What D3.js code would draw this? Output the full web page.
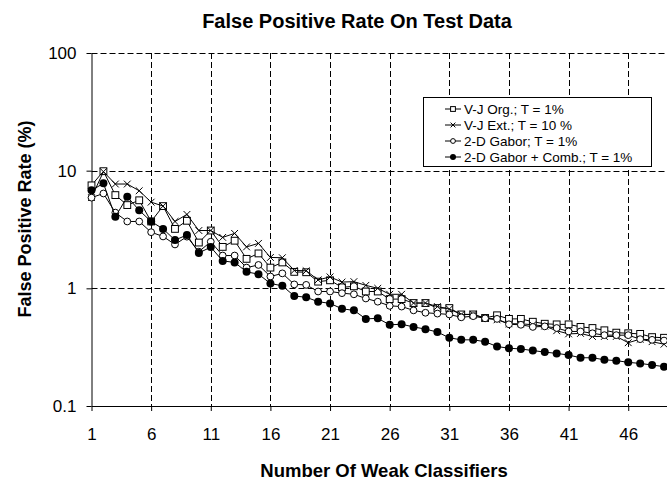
<!DOCTYPE html>
<html>
<head>
<meta charset="utf-8">
<script src="https://cdn.jsdelivr.net/npm/d3@7"></script>
<style>
  body { margin: 0; background: #fff; }
  svg { display: block; font-family: "Liberation Sans", Arial, sans-serif; }
</style>
</head>
<body>
<svg id="chart" width="667" height="485"></svg>
<script>
// Number of weak classifiers (x categories)
const steps = d3.range(1, 50);

// False positive rate (%) per number of weak classifiers
const vjOrg = [7.5, 9.9, 6.2, 5.1, 5.6, 3.7, 5.0, 3.2, 3.75, 2.45,
  3.1, 2.25, 2.54, 1.78, 1.98, 1.5, 1.66, 1.38, 1.37, 1.14,
  1.17, 1.02, 1.04, 0.94, 0.94, 0.81, 0.81, 0.75, 0.75, 0.68,
  0.68, 0.6, 0.6, 0.56, 0.59, 0.55, 0.55, 0.52, 0.5, 0.494,
  0.494, 0.47, 0.46, 0.44, 0.42, 0.415, 0.41, 0.385, 0.38];

const vjExt = [5.9, 9.8, 7.7, 7.7, 6.75, 5.4, 5.0, 3.7, 4.25, 3.1,
  3.1, 2.71, 2.93, 2.25, 2.41, 1.83, 1.82, 1.42, 1.41, 1.18,
  1.25, 1.13, 1.14, 1.06, 1.0, 0.89, 0.89, 0.75, 0.75, 0.7,
  0.667, 0.6, 0.6, 0.556, 0.54, 0.5, 0.5, 0.49, 0.478, 0.436,
  0.41, 0.414, 0.39, 0.39, 0.39, 0.345, 0.37, 0.352, 0.335];

const gabor = [5.9, 6.4, 4.4, 3.7, 3.7, 3.0, 2.76, 2.36, 2.75, 2.05,
  2.49, 1.9, 1.9, 1.5, 1.58, 1.26, 1.34, 1.08, 1.07, 0.94,
  0.94, 0.91, 0.89, 0.82, 0.77, 0.71, 0.7, 0.65, 0.62, 0.61,
  0.6, 0.567, 0.58, 0.556, 0.55, 0.495, 0.49, 0.47, 0.475, 0.46,
  0.43, 0.43, 0.415, 0.4, 0.4, 0.4, 0.37, 0.365, 0.36];

const gaborComb = [6.8, 7.8, 4.05, 6.0, 4.6, 3.7, 3.2, 2.57, 2.84, 2.0,
  2.24, 1.71, 1.66, 1.38, 1.32, 1.1, 1.05, 0.86, 0.84, 0.77,
  0.745, 0.67, 0.65, 0.55, 0.556, 0.49, 0.495, 0.47, 0.45, 0.425,
  0.38, 0.365, 0.365, 0.352, 0.32, 0.31, 0.305, 0.296, 0.287, 0.28,
  0.271, 0.257, 0.257, 0.247, 0.243, 0.235, 0.23, 0.223, 0.216];

const seriesNames = ["V-J Org.; T = 1%", "V-J Ext.; T = 10 %", "2-D Gabor; T = 1%", "2-D Gabor + Comb.; T = 1%"];
const seriesMarkers = ["square", "cross", "circle", "dot"];
const seriesValues = [vjOrg, vjExt, gabor, gaborComb];

// Axis ticks
const xTicks = [1, 6, 11, 16, 21, 26, 31, 36, 41, 46];
const yTicks = [0.1, 1, 10, 100];
const yTickLabels = ["0.1", "1", "10", "100"];

const svg = d3.select("#chart");
const plotL = 91.5, plotR = 667, plotT = 53, plotB = 406;

const x = d3.scaleLinear().domain([1, 49.25]).range([plotL, plotR]);
const y = d3.scaleLog().domain([0.1, 100]).range([plotB, plotT]);

// Title and axis titles
svg.append("text")
  .attr("x", 357).attr("y", 28)
  .attr("text-anchor", "middle")
  .attr("font-size", 20).attr("font-weight", "bold")
  .text("False Positive Rate On Test Data");

svg.append("text")
  .attr("transform", "translate(31,219) rotate(-90)")
  .attr("text-anchor", "middle")
  .attr("font-size", 18).attr("font-weight", "bold")
  .text("False Positive Rate (%)");

svg.append("text")
  .attr("x", 384).attr("y", 477)
  .attr("text-anchor", "middle")
  .attr("font-size", 18.5).attr("font-weight", "bold")
  .text("Number Of Weak Classifiers");

// Dashed grid
const grid = svg.append("g").attr("stroke", "#000").attr("stroke-width", 1)
  .attr("stroke-dasharray", "6,3").attr("fill", "none");
grid.selectAll(".hg").data(yTicks.filter(v => v > 0.1)).enter().append("line")
  .attr("x1", plotL).attr("x2", plotR)
  .attr("y1", d => Math.round(y(d)) + 0.5).attr("y2", d => Math.round(y(d)) + 0.5);
grid.selectAll(".vg").data(xTicks.filter(v => v > 1)).enter().append("line")
  .attr("y1", plotT).attr("y2", plotB)
  .attr("x1", d => Math.round(x(d)) + 0.5).attr("x2", d => Math.round(x(d)) + 0.5);

// Axes
const yAxis = svg.append("g")
  .attr("transform", `translate(${plotL},0)`)
  .call(d3.axisLeft(y).tickValues(yTicks)
    .tickFormat((d, i) => yTickLabels[i]).tickSize(5).tickPadding(10).tickSizeOuter(0));
const xAxis = svg.append("g")
  .attr("transform", `translate(0,${plotB})`)
  .call(d3.axisBottom(x).tickValues(xTicks).tickSize(5).tickPadding(17).tickSizeOuter(0));
[yAxis, xAxis].forEach(a => {
  a.select(".domain").attr("stroke", "#000");
  a.selectAll(".tick line").attr("stroke", "#000");
  a.selectAll("text").attr("font-size", 17).attr("fill", "#000")
    .attr("font-family", "'Liberation Sans', Arial, sans-serif");
});

// Marker drawing
function drawMarker(g, type, s) {
  if (type === "square") {
    g.append("rect").attr("x", -s).attr("y", -s).attr("width", 2 * s).attr("height", 2 * s)
      .attr("fill", "#fff").attr("stroke", "#000").attr("stroke-width", 1);
  } else if (type === "cross") {
    g.append("path").attr("d", `M${-s},${-s}L${s},${s}M${-s},${s}L${s},${-s}`)
      .attr("stroke", "#000").attr("stroke-width", 1).attr("fill", "none");
  } else if (type === "circle") {
    g.append("circle").attr("r", s).attr("fill", "#fff").attr("stroke", "#000").attr("stroke-width", 1);
  } else {
    g.append("circle").attr("r", s + 0.6).attr("fill", "#000");
  }
}

const line = d3.line().x(d => x(d[0])).y(d => y(d[1]));

seriesValues.forEach((vals, k) => {
  const pts = steps.map((s, i) => [s, vals[i]]);
  const g = svg.append("g");
  g.append("path").datum(pts).attr("d", line)
    .attr("fill", "none").attr("stroke", "#000").attr("stroke-width", 1);
  g.selectAll(".m").data(pts).enter().append("g")
    .attr("transform", d => `translate(${x(d[0])},${y(d[1])})`)
    .each(function () { drawMarker(d3.select(this), seriesMarkers[k], 3.4); });
});

// Legend
const lg = svg.append("g");
lg.append("rect").attr("x", 423.5).attr("y", 97.5).attr("width", 228).attr("height", 69)
  .attr("fill", "#fff").attr("stroke", "#000").attr("stroke-width", 1);
seriesNames.forEach((name, k) => {
  const cy = 109 + k * 16;
  lg.append("line").attr("x1", 445).attr("x2", 461).attr("y1", cy).attr("y2", cy)
    .attr("stroke", "#000").attr("stroke-width", 1);
  const m = lg.append("g").attr("transform", `translate(453,${cy})`);
  drawMarker(m, seriesMarkers[k], 2.4);
  lg.append("text").attr("x", 464).attr("y", cy + 5)
    .attr("font-size", 13.5).text(name);
});
</script>
</body>
</html>
